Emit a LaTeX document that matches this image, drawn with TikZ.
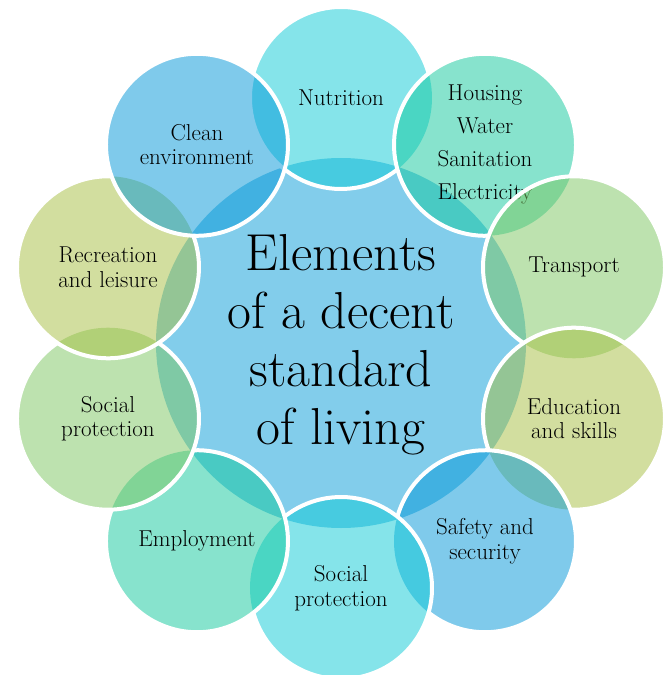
\documentclass[tikz,border=0pt]{standalone}
\usepackage{tikz}
\usetikzlibrary{calc}

\definecolor{petalcyan}{RGB}{13,203,215}
\definecolor{petalmint}{RGB}{17,201,157}
\definecolor{petalleaf}{RGB}{125,199,97}
\definecolor{petalolive}{RGB}{167,191,65}
\definecolor{petalsky}{RGB}{1,151,217}
\definecolor{corecol}{RGB}{130,205,235}

\tikzset{
  petal/.style={fill opacity=0.5},
  rim/.style={white, line width=4pt},
  lbl/.style={align=center, font=\fontsize{23}{24.5}\selectfont},
}

\begin{document}
\begin{tikzpicture}
    \useasboundingbox[fill=white] (-341pt,-332pt) rectangle (327pt,343pt);
    \coordinate (mid) at (0,0);
    \fill[corecol] (mid) circle (185pt);

    % ring of ten circles, clockwise from the top
    \coordinate (nut) at (90:245pt);
    \fill[petal, petalcyan] (nut) circle (91pt);
    \draw[rim] (nut) ++(15.69:91pt) arc (15.69:308.31:91pt);
    \node[lbl] (nutlbl) at (nut) {Nutrition};

    \coordinate (hous) at (54:245pt);
    \fill[petal, petalmint] (hous) circle (91pt);
    \draw[rim] (hous) ++(-20.31:91pt) arc (-20.31:272.31:91pt);
    \node[lbl, font=\fontsize{23}{33}\selectfont] (houslbl) at (hous) {Housing\\Water\\Sanitation\\Electricity};

    \coordinate (trans) at (18:245pt);
    \fill[petal, petalleaf] (trans) circle (91pt);
    \draw[rim] (trans) ++(-56.31:91pt) arc (-56.31:236.31:91pt);
    \node[lbl] (translbl) at (trans) {Transport};

    \coordinate (edu) at (-18:245pt);
    \fill[petal, petalolive] (edu) circle (91pt);
    \draw[rim] (edu) ++(-92.31:91pt) arc (-92.31:200.31:91pt);
    \node[lbl] (edulbl) at (edu) {Education\\and skills};

    \coordinate (safe) at (-54:245pt);
    \fill[petal, petalsky] (safe) circle (91pt);
    \draw[rim] (safe) ++(-128.31:91pt) arc (-128.31:164.31:91pt);
    \node[lbl] (safelbl) at (safe) {Safety and\\security};

    \coordinate (socb) at (-90:245pt);
    \fill[petal, petalcyan] (socb) circle (91pt);
    \draw[rim] (socb) ++(-164.31:91pt) arc (-164.31:128.31:91pt);
    \node[lbl] (socblbl) at (socb) {Social\\protection};

    \coordinate (empl) at (-126:245pt);
    \fill[petal, petalmint] (empl) circle (91pt);
    \draw[rim] (empl) ++(-200.31:91pt) arc (-200.31:92.31:91pt);
    \node[lbl] (empllbl) at (empl) {Employment};

    \coordinate (socl) at (-162:245pt);
    \fill[petal, petalleaf] (socl) circle (91pt);
    \draw[rim] (socl) ++(-236.31:91pt) arc (-236.31:56.31:91pt);
    \node[lbl] (socllbl) at (socl) {Social\\protection};

    \coordinate (recr) at (162:245pt);
    \fill[petal, petalolive] (recr) circle (91pt);
    \draw[rim] (recr) ++(87.69:91pt) arc (87.69:380.31:91pt);
    \node[lbl] (recrlbl) at (recr) {Recreation\\and leisure};

    \coordinate (env) at (126:245pt);
    \fill[petal, petalsky] (env) circle (91pt);
    \draw[rim] (env) circle (91pt);
    \node[lbl] (envlbl) at (env) {Clean\\environment};

    \node[align=center, font=\fontsize{52}{58}\selectfont] (title) at (0,-2pt) {Elements\\of a decent\\standard\\of living};
\end{tikzpicture}
\end{document}
